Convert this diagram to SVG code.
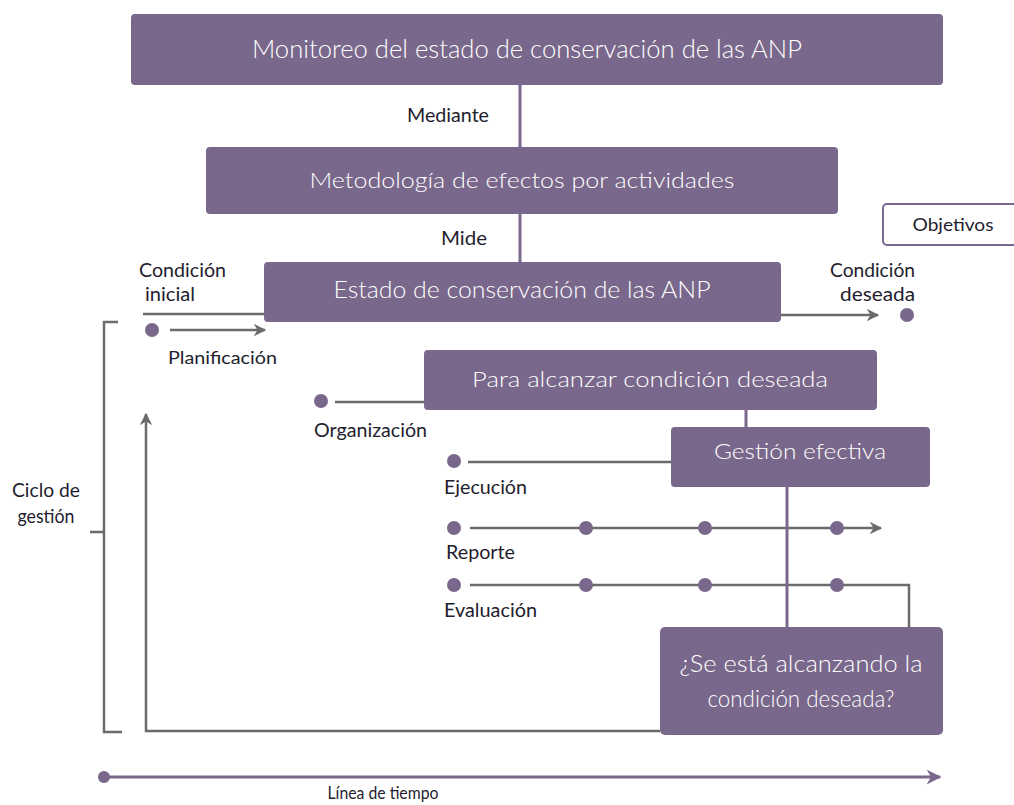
<svg xmlns="http://www.w3.org/2000/svg" width="1014" height="805" viewBox="0 0 1014 805">
<defs>
<style>
.box{fill:#79688b}
.bt{fill:#ffffff;font-family:Lato,"Liberation Sans",sans-serif;font-weight:300;text-anchor:middle}
.lb{fill:#231d2e;font-family:Lato,"Liberation Sans",sans-serif;font-size:18.5px;font-weight:400}
.gl{stroke:#6b6b6b;stroke-width:2.5;fill:none}
.pl{stroke:#79688b;stroke-width:3;fill:none}
.dot{fill:#79688b}
</style>
<marker id="ag" viewBox="0 0 10 10" refX="9" refY="5" markerWidth="5" markerHeight="5" orient="auto" markerUnits="strokeWidth"><path d="M0,0 L10,5 L0,10 L3,5 z" fill="#6b6b6b"/></marker>
<marker id="ap" viewBox="0 0 10 10" refX="9" refY="5" markerWidth="5" markerHeight="5" orient="auto" markerUnits="strokeWidth"><path d="M0,0 L10,5 L0,10 L3,5 z" fill="#79688b"/></marker>
</defs>
<g id="connectors">
<line class="pl" x1="520" y1="85" x2="520" y2="147"/>
<line class="pl" x1="520" y1="214" x2="520" y2="262"/>
<line class="gl" x1="143" y1="314" x2="264" y2="314"/>
<line class="gl" x1="170" y1="330" x2="265" y2="330" marker-end="url(#ag)"/>
<line class="gl" x1="781" y1="315" x2="878" y2="315" marker-end="url(#ag)"/>
<polyline class="gl" points="118,322 104,322 104,732 122,732"/>
<line class="gl" x1="90" y1="532" x2="104" y2="532"/>
<polyline class="gl" points="660,731 146,731 146,414" marker-end="url(#ag)"/>
<line class="gl" x1="335" y1="402" x2="424" y2="402"/>
<line class="pl" x1="746" y1="410" x2="746" y2="427"/>
<line class="gl" x1="468" y1="462" x2="671" y2="462"/>
<line class="gl" x1="470" y1="528" x2="881" y2="528" marker-end="url(#ag)"/>
<polyline class="gl" points="470,585 909,585 909,627"/>
<line class="pl" x1="787" y1="487" x2="787" y2="627"/>
<line class="pl" x1="103" y1="777" x2="940" y2="777" marker-end="url(#ap)"/>
</g>
<g id="dots">
<circle class="dot" cx="152" cy="330" r="7"/>
<circle class="dot" cx="907" cy="315" r="7"/>
<circle class="dot" cx="321" cy="401" r="7"/>
<circle class="dot" cx="454" cy="461" r="7"/>
<circle class="dot" cx="454" cy="528" r="7"/>
<circle class="dot" cx="586" cy="528" r="7"/>
<circle class="dot" cx="705" cy="528" r="7"/>
<circle class="dot" cx="837" cy="528" r="7"/>
<circle class="dot" cx="454" cy="585" r="7"/>
<circle class="dot" cx="586" cy="585" r="7"/>
<circle class="dot" cx="705" cy="585" r="7"/>
<circle class="dot" cx="837" cy="585" r="7"/>
<circle class="dot" cx="104" cy="777" r="6"/>
</g>
<g id="n-monitoreo">
<rect class="box" x="131" y="14" width="812" height="71" rx="4"/>
<text class="bt" x="527" y="58" font-size="25" textLength="550" lengthAdjust="spacingAndGlyphs">Monitoreo del estado de conservación de las ANP</text>
</g>
<g id="n-metodologia">
<rect class="box" x="206" y="147" width="632" height="67" rx="4"/>
<text class="bt" x="522" y="188" font-size="22" textLength="425" lengthAdjust="spacingAndGlyphs">Metodología de efectos por actividades</text>
</g>
<g id="n-estado">
<rect class="box" x="264" y="262" width="517" height="60" rx="4"/>
<text class="bt" x="522" y="298" font-size="23" textLength="377" lengthAdjust="spacingAndGlyphs">Estado de conservación de las ANP</text>
</g>
<g id="n-objetivos">
<rect x="883" y="204" width="140" height="41" rx="4" fill="#ffffff" stroke="#79688b" stroke-width="2"/>
<text x="953" y="231" font-family="Lato,'Liberation Sans',sans-serif" font-size="17" fill="#231d2e" text-anchor="middle" textLength="81" lengthAdjust="spacingAndGlyphs">Objetivos</text>
</g>
<g id="n-para">
<rect class="box" x="424" y="350" width="453" height="60" rx="4"/>
<text class="bt" x="650" y="387" font-size="22" textLength="356" lengthAdjust="spacingAndGlyphs">Para alcanzar condición deseada</text>
</g>
<g id="n-gestion">
<rect class="box" x="671" y="427" width="259" height="60" rx="4"/>
<text class="bt" x="800" y="459" font-size="21" textLength="172" lengthAdjust="spacingAndGlyphs">Gestión efectiva</text>
</g>
<g id="n-pregunta">
<rect class="box" x="660" y="627" width="283" height="108" rx="5"/>
<text class="bt" x="801" y="672" font-size="23" textLength="243" lengthAdjust="spacingAndGlyphs">¿Se está alcanzando la</text>
<text class="bt" x="801" y="707" font-size="23" textLength="187" lengthAdjust="spacingAndGlyphs">condición deseada?</text>
</g>
<g id="labels">
<text class="lb" x="407" y="122" textLength="82" lengthAdjust="spacingAndGlyphs">Mediante</text>
<text class="lb" x="441" y="245" textLength="46" lengthAdjust="spacingAndGlyphs">Mide</text>
<text class="lb" x="139" y="277" textLength="87" lengthAdjust="spacingAndGlyphs">Condición</text>
<text class="lb" x="145" y="301" textLength="50" lengthAdjust="spacingAndGlyphs">inicial</text>
<text class="lb" x="168" y="364" style="font-size:17px" textLength="109" lengthAdjust="spacingAndGlyphs">Planificación</text>
<text class="lb" x="915" y="277" text-anchor="end" textLength="85" lengthAdjust="spacingAndGlyphs">Condición</text>
<text class="lb" x="915" y="301" text-anchor="end" textLength="75" lengthAdjust="spacingAndGlyphs">deseada</text>
<text class="lb" x="314" y="437" textLength="113" lengthAdjust="spacingAndGlyphs">Organización</text>
<text class="lb" x="444" y="494" textLength="83" lengthAdjust="spacingAndGlyphs">Ejecución</text>
<text class="lb" x="446" y="559" textLength="69" lengthAdjust="spacingAndGlyphs">Reporte</text>
<text class="lb" x="444" y="617" textLength="93" lengthAdjust="spacingAndGlyphs">Evaluación</text>
<text class="lb" x="46" y="497" text-anchor="middle" textLength="68" lengthAdjust="spacingAndGlyphs">Ciclo de</text>
<text class="lb" x="46" y="523" text-anchor="middle" textLength="57" lengthAdjust="spacingAndGlyphs">gestión</text>
<text class="lb" x="383" y="799" text-anchor="middle" style="font-size:17px" textLength="111" lengthAdjust="spacingAndGlyphs">Línea de tiempo</text>
</g>
</svg>
